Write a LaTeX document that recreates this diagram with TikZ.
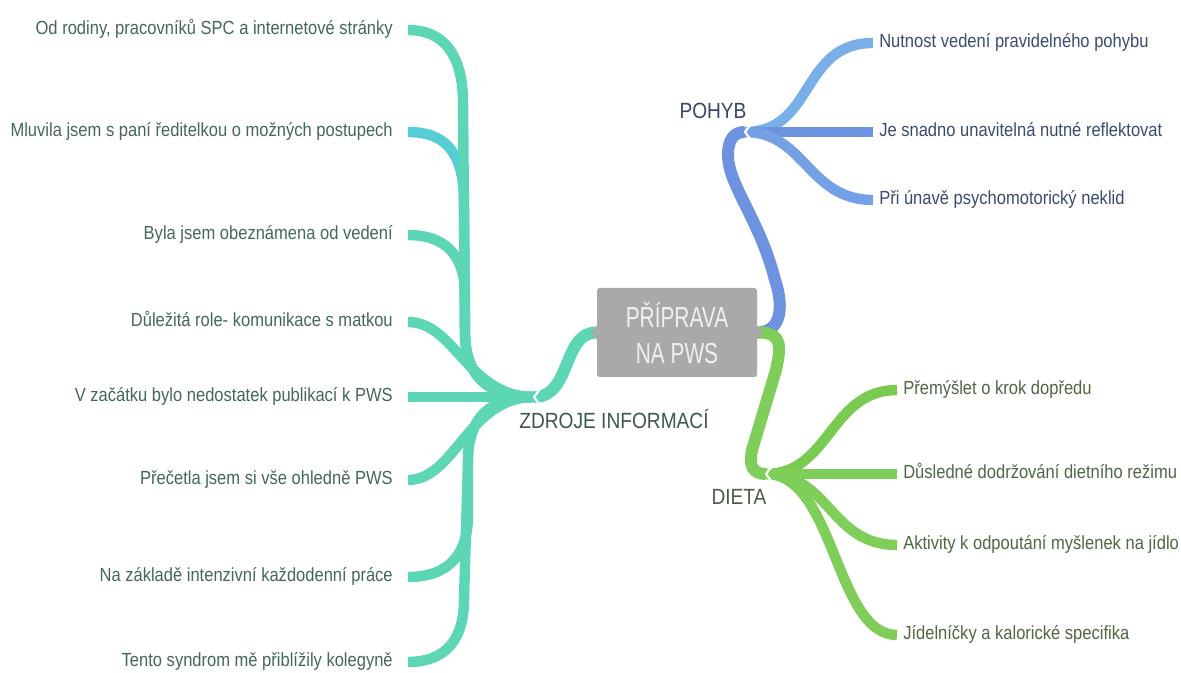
\documentclass[tikz,border=0pt]{standalone}
\usepackage{fontspec}
\setmainfont{Liberation Sans}
\newfontfamily\labfont[FakeStretch=0.87]{Liberation Sans}
\newfontfamily\rootfont[FakeStretch=0.72]{Liberation Sans}
\usetikzlibrary{backgrounds,calc}

\definecolor{teal1}{HTML}{5CD6B5}
\definecolor{teal2}{HTML}{56CDD6}
\definecolor{blue1}{HTML}{6C92E0}
\definecolor{blue2}{HTML}{7AAEE8}
\definecolor{blue3}{HTML}{74A0E6}
\definecolor{green1}{HTML}{80CE5A}
\definecolor{green2}{HTML}{78CB50}
\definecolor{boxgray}{HTML}{A9A9A9}
\definecolor{roottext}{HTML}{F0F0F0}
\definecolor{lefttext}{HTML}{45665F}
\definecolor{bluetext}{HTML}{3B4B6E}
\definecolor{greentext}{HTML}{506645}
\definecolor{zdrtext}{HTML}{3E5752}
\definecolor{pohtext}{HTML}{3A4668}
\definecolor{diettext}{HTML}{4D5A47}

\begin{document}
\begin{tikzpicture}[x=0.75pt,y=-0.75pt,line cap=round,line join=round,
  branch/.style={line width=7.8pt},
  trunk/.style={line width=9pt},
  labelfont/.style={font=\labfont\fontsize{14.25}{17}\selectfont,
    text height=10.5pt,text depth=3.5pt,inner ysep=0pt},
  leftleaf/.style={labelfont,anchor=east,inner xsep=11.25pt,text=lefttext},
  rightleaf/.style={labelfont,anchor=west,inner xsep=4.5pt},
  hubtext/.style={font=\labfont\fontsize{16.5}{19}\selectfont,inner sep=0pt},
  rootbox/.style={font=\rootfont\fontsize{21.75}{27}\selectfont,align=center,
    fill=boxgray,text=roottext,rounded corners=2pt,inner sep=0pt,
    minimum width=120pt,minimum height=66.75pt},
  notch/.style={white,line width=1.6pt}]

\useasboundingbox (0,0) rectangle (1181,673);

% central topic
\node[rootbox] (root) at (677,332.5) {PŘÍPRAVA\\NA PWS};
\fill[boxgray] (root.west) ++(0,-7) -- ++(-6,7) -- ++(6,7) -- cycle;
\fill[boxgray] (root.east) ++(0,-7) -- ++(6,7) -- ++(-6,7) -- cycle;

% main branch labels and their branching points
\node[hubtext,text=zdrtext] (zdroje) at (614,419) {ZDROJE INFORMACÍ};
\node[hubtext,text=pohtext] (pohyb) at (713,111) {POHYB};
\node[hubtext,text=diettext] (dieta) at (739,497) {DIETA};
\coordinate (zh) at (534,397);
\coordinate (ph) at (745,132);
\coordinate (dh) at (766,474);

% sources of information
\node[leftleaf] (l1) at (408,30) {Od rodiny, pracovníků SPC a internetové stránky};
\node[leftleaf] (l2) at (408,132) {Mluvila jsem s paní ředitelkou o možných postupech};
\node[leftleaf] (l3) at (408,235) {Byla jsem obeznámena od vedení};
\node[leftleaf] (l4) at (408,322) {Důležitá role- komunikace s matkou};
\node[leftleaf] (l5) at (408,397) {V začátku bylo nedostatek publikací k PWS};
\node[leftleaf] (l6) at (408,480) {Přečetla jsem si vše ohledně PWS};
\node[leftleaf] (l7) at (408,577) {Na základě intenzivní každodenní práce};
\node[leftleaf] (l8) at (408,662) {Tento syndrom mě přiblížily kolegyně};

% movement
\node[rightleaf,text=bluetext] (p1) at (873,43) {Nutnost vedení pravidelného pohybu};
\node[rightleaf,text=bluetext] (p2) at (873,132) {Je snadno unavitelná nutné reflektovat};
\node[rightleaf,text=bluetext] (p3) at (873,200) {Při únavě psychomotorický neklid};

% diet
\node[rightleaf,text=greentext] (d1) at (897,390) {Přemýšlet o krok dopředu};
\node[rightleaf,text=greentext] (d2) at (897,474) {Důsledné dodržování dietního režimu};
\node[rightleaf,text=greentext] (d3) at (897,545) {Aktivity k odpoutání myšlenek na jídlo};
\node[rightleaf,text=greentext] (d4) at (897,635) {Jídelníčky a kalorické specifika};

\begin{pgfonlayer}{background}
\fill[white] (0,0) rectangle (1181,673);

% left tree
\draw[branch,teal2] (l2.east) .. controls (445,132) and (464,152) .. (464,202)
  -- (465,335) .. controls (466,378) and (490,397) .. (zh);
\draw[branch,teal1] (l1.east) .. controls (440,30) and (462,50) .. (463,100)
  -- (465,335) .. controls (466,378) and (490,397) .. (zh);
\draw[branch,teal1] (l3.east) .. controls (445,235) and (465,255) .. (465,295)
  -- (465,335) .. controls (466,378) and (490,397) .. (zh);
\draw[branch,teal1] (l4.east) .. controls (455,322) and (468,397) .. (zh);
\draw[branch,teal1] (l5.east) -- (zh);
\draw[branch,teal1] (l6.east) .. controls (455,480) and (468,397) .. (zh);
\draw[branch,teal1] (l7.east) .. controls (448,577) and (468,555) .. (468,515)
  -- (468,460) .. controls (468,418) and (490,397) .. (zh);
\draw[branch,teal1] (l8.east) .. controls (445,662) and (464,640) .. (464,600)
  -- (468,460) .. controls (468,418) and (490,397) .. (zh);
\draw[trunk,teal1] (zh) .. controls (572,397) and (562,332) .. (root.west);

% movement tree
\draw[trunk,blue1] (root.east) .. controls (785,332) and (782,300) .. (775,280)
  .. controls (760,220) and (728,185) .. (728,155)
  .. controls (728,138) and (735,132) .. (ph);
\draw[branch,blue2] (ph) .. controls (815,132) and (800,43) .. (p1.west);
\draw[branch,blue1] (ph) -- (p2.west);
\draw[branch,blue3] (ph) .. controls (805,132) and (808,200) .. (p3.west);

% diet tree
\draw[trunk,green1] (root.east) .. controls (785,332) and (780,350) .. (776,370)
  -- (752,450) .. controls (749,465) and (752,474) .. (dh);
\draw[branch,green2] (dh) .. controls (830,474) and (830,390) .. (d1.west);
\draw[branch,green1] (dh) -- (d2.west);
\draw[branch,green1] (dh) .. controls (830,474) and (830,545) .. (d3.west);
\draw[branch,green1] (dh) .. controls (835,474) and (835,635) .. (d4.west);
\end{pgfonlayer}

% small notches where branches meet
\draw[notch] ($(zh)+(6,-8)$) -- (zh) -- ($(zh)+(6,8)$);
\draw[notch] ($(ph)+(6,-8)$) -- (ph) -- ($(ph)+(6,8)$);
\draw[notch] ($(dh)+(6,-8)$) -- (dh) -- ($(dh)+(6,8)$);
\end{tikzpicture}
\end{document}
